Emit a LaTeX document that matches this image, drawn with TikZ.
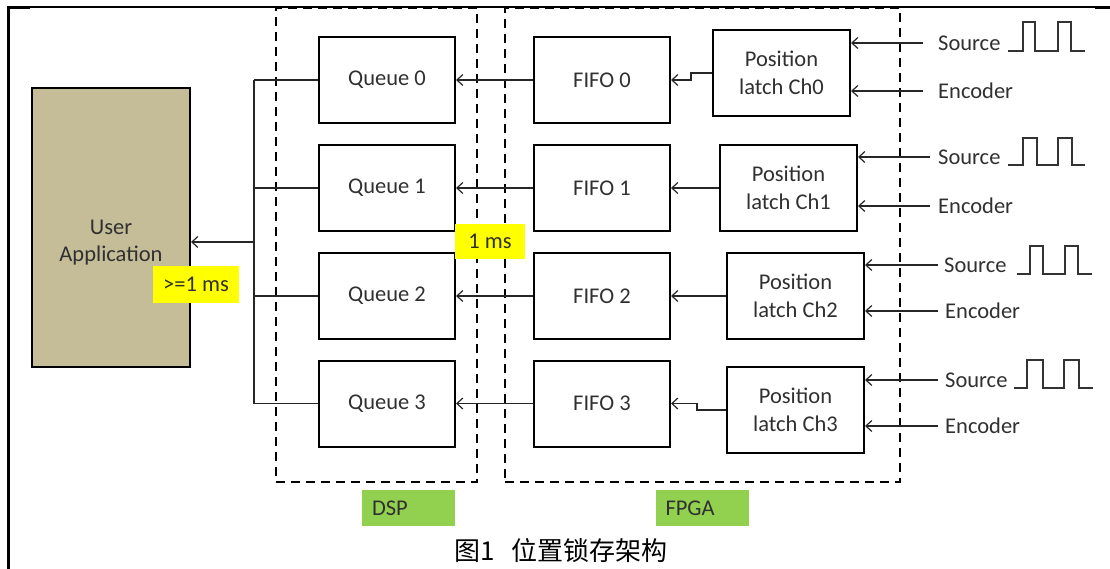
\documentclass[tikz,border=0pt]{standalone}
\usepackage{fontspec}
\setmainfont{Carlito}
\newfontfamily\cjk{Noto Sans CJK SC}
\usetikzlibrary{arrows.meta,calc}
\definecolor{apptan}{HTML}{C4BD97}
\definecolor{ylw}{HTML}{FFFF00}
\definecolor{grn}{HTML}{92D050}
\definecolor{txt}{HTML}{303030}
\begin{document}
\begin{tikzpicture}[x=1pt,y=-1pt,
  font=\fontsize{22.5}{27.5}\selectfont,
  box/.style={draw=black,line width=2pt,minimum width=136pt,minimum height=86pt,inner sep=0pt,align=center,text=txt},
  dashbox/.style={draw=black,line width=2.2pt,dash pattern=on 9pt off 6pt,inner sep=0pt},
  wire/.style={line width=1.2pt,black!85},
  arr/.style={wire,-{Straight Barb[length=6pt,width=11pt,line width=1.2pt]}},
  inp/.style={anchor=west,inner ysep=0pt,text=txt},
  ylab/.style={fill=ylw,inner sep=0pt,text=txt},
  glab/.style={fill=grn,inner sep=0pt,inner xsep=10pt,minimum height=36pt,text width=73pt,align=left,text=txt},
  wave/.style={line width=1.5pt,black!80}
]
\useasboundingbox (0,0) rectangle (1110,569);

% outer frame
\draw[line width=1.2pt] (8,7) -- (1110,7);
\draw[line width=3pt] (8,6.5) -- (8,569);
\draw[line width=2.2pt] (8,7.5) -- (30,7.5);
\draw[line width=2.2pt] (1095,7.5) -- (1110,7.5);

% dashed containers
\node[dashbox,minimum width=201pt,minimum height=474pt] (dspbox) at (376.5,245) {};
\node[dashbox,minimum width=395pt,minimum height=474pt] (fpgabox) at (702.5,245) {};

% user application
\node[draw=black,line width=2pt,fill=apptan,minimum width=158pt,minimum height=279pt,
      label={[align=center,text=txt,yshift=-15pt]center:User\\Application}] (app) at (111,227.5) {};

% queues
\node[box] (q0) at (387,80) {Queue 0};
\node[box] (q1) at (387,188) {Queue 1};
\node[box] (q2) at (387,296) {Queue 2};
\node[box] (q3) at (387,403.5) {Queue 3};

% FIFOs
\node[box] (f0) at (602,80) {FIFO 0};
\node[box] (f1) at (602,188) {FIFO 1};
\node[box] (f2) at (602,296) {FIFO 2};
\node[box] (f3) at (602,403.5) {FIFO 3};

% position latches
\node[box,minimum width=137pt] (l0) at (781.5,73) {Position\\latch Ch0};
\node[box,minimum width=137pt] (l1) at (788.5,188) {Position\\latch Ch1};
\node[box,minimum width=137pt] (l2) at (795.5,296) {Position\\latch Ch2};
\node[box,minimum width=137pt] (l3) at (795.5,410) {Position\\latch Ch3};

% bus to user application
\coordinate (bus) at (254,242);
\draw[wire] (q0.west -| bus) -- (q3.west -| bus);
\draw[wire] (q0.west) -- (q0.west -| bus);
\draw[wire] (q1.west) -- (q1.west -| bus);
\draw[wire] (q2.west) -- (q2.west -| bus);
\draw[wire] (q3.west) -- (q3.west -| bus);
\draw[arr] (bus) -- (bus -| app.east);

% FIFO -> Queue
\draw[arr] (f0.west) -- (q0.east);
\draw[arr] (f1.west) -- (q1.east);
\draw[arr] (f2.west) -- (q2.east);
\draw[arr] (f3.west) -- (q3.east);

% latch -> FIFO
\draw[arr] (l0.west) -- ++(-21,0) |- (f0.east);
\draw[arr] (l1.west) -- (f1.east);
\draw[arr] (l2.west) -- (f2.east);
\draw[arr] (l3.west) -- ++(-29,0) |- (f3.east);

% inputs
\node[inp,inner xsep=15pt] (s0) at (923,43) {Source};
\node[inp,inner xsep=15pt] (e0) at (923,91) {Encoder};
\node[inp,inner xsep=8pt] (s1) at (930,157) {Source};
\node[inp,inner xsep=8pt] (e1) at (930,206) {Encoder};
\node[inp,inner xsep=6pt] (s2) at (938,265) {Source};
\node[inp,inner xsep=7pt] (e2) at (938,311) {Encoder};
\node[inp,inner xsep=7pt] (s3) at (938,380) {Source};
\node[inp,inner xsep=7pt] (e3) at (938,426) {Encoder};
\draw[arr] (s0.west) -- (s0.west -| l0.east);
\draw[arr] (e0.west) -- (e0.west -| l0.east);
\draw[arr] (s1.west) -- (s1.west -| l1.east);
\draw[arr] (e1.west) -- (e1.west -| l1.east);
\draw[arr] (s2.west) -- (s2.west -| l2.east);
\draw[arr] (e2.west) -- (e2.west -| l2.east);
\draw[arr] (s3.west) -- (s3.west -| l3.east);
\draw[arr] (e3.west) -- (e3.west -| l3.east);

% square waves
\draw[wave] (1008,51) -- (1023,51) -- (1023,22) -- (1035,22) -- (1035,51) -- (1058,51) -- (1058,22) -- (1071,22) -- (1071,51) -- (1085,51);
\draw[wave] (1008,165) -- (1023,165) -- (1023,138) -- (1037,138) -- (1037,165) -- (1058,165) -- (1058,138) -- (1072,138) -- (1072,165) -- (1085,165);
\draw[wave] (1017,274) -- (1030,274) -- (1030,246) -- (1043,246) -- (1043,274) -- (1065,274) -- (1065,246) -- (1078,246) -- (1078,274) -- (1092,274);
\draw[wave] (1014,388) -- (1027,388) -- (1027,360) -- (1043,360) -- (1043,388) -- (1064,388) -- (1064,360) -- (1079,360) -- (1079,388) -- (1093,388);

% timing labels
\node[ylab,minimum width=86pt,minimum height=37pt] (t1) at (196,284.5) {>=1 ms};
\node[ylab,minimum width=70pt,minimum height=35pt] (t2) at (490,241.5) {1 ms};

% domain labels
\node[glab] (dsp) at (408.5,508) {DSP};
\node[glab] (fpga) at (702,508) {FPGA};

% caption
\node[font=\cjk\fontsize{26}{30}\selectfont,text=black,inner sep=0pt] (cap) at (561,551) {图1\hspace{0.6em}位置锁存架构};
\end{tikzpicture}
\end{document}
